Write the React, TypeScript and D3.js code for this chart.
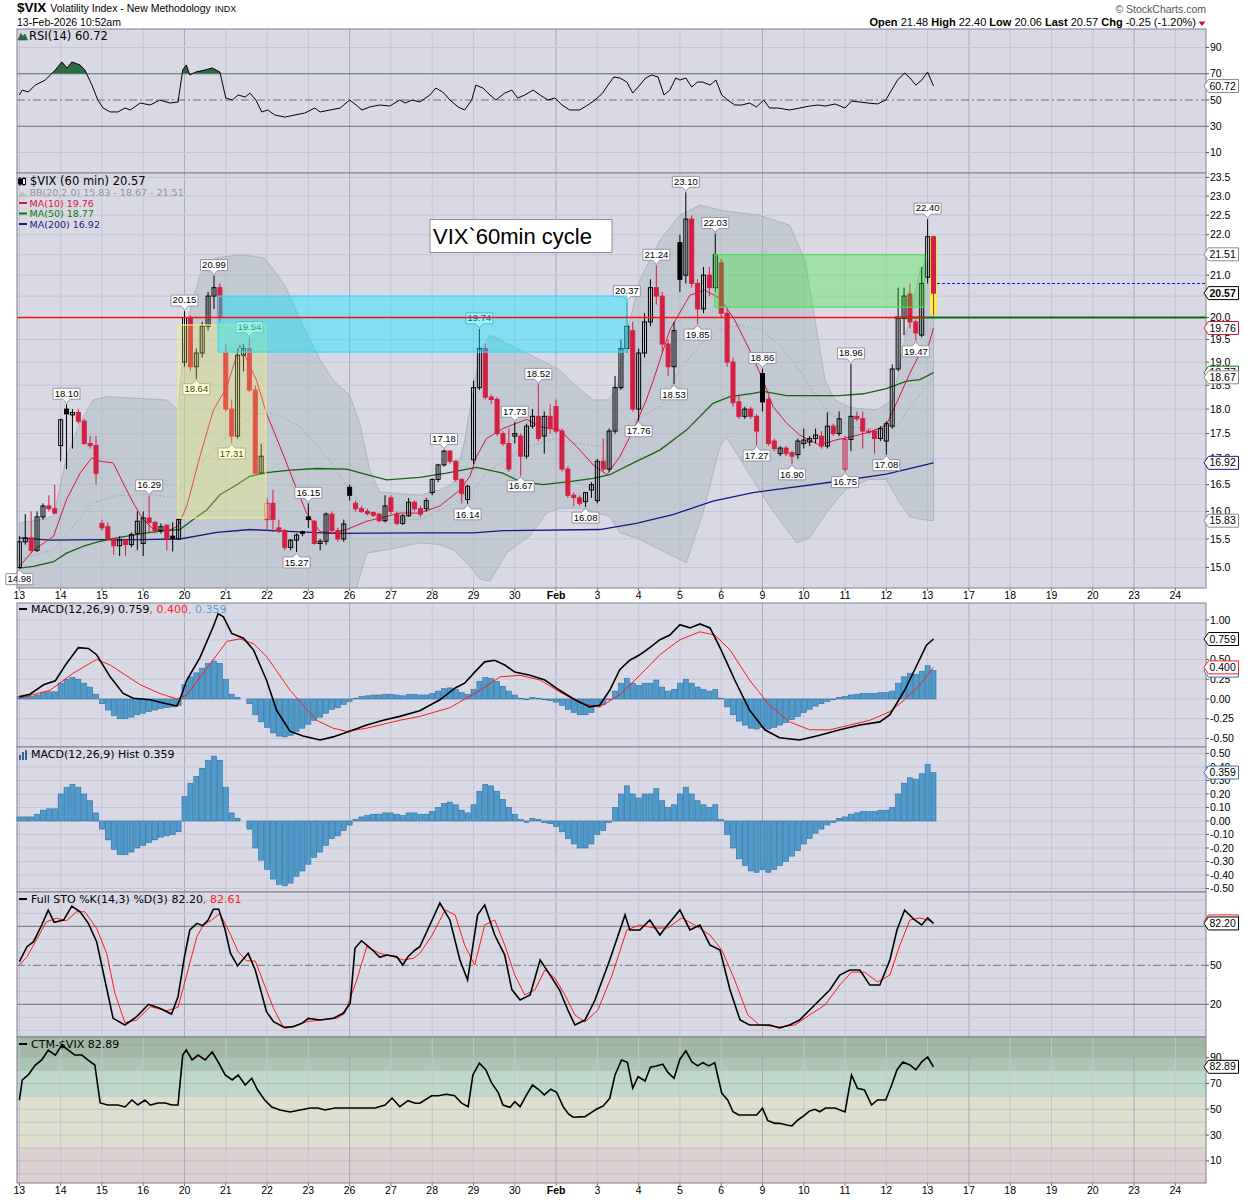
import React from "react";
import * as d3 from "d3";

// ================= DATA =================
const dayLabels = ["13","14","15","16","20","21","22","23","26","27","28","29","30","Feb","3","4","5","6","9","10","11","12","13","17","18","19","20","23","24"];
const weekStartIdx = [4, 8, 13, 18, 23, 27];

const opens = [
 15.00,15.45,15.52,15.30,15.90,16.10,16.05,
 17.26,18.00,17.88,17.93,17.75,17.30,17.26,
 15.78,15.72,15.50,15.38,15.48,15.40,15.60,
 15.42,15.88,15.80,15.65,15.75,15.55,15.50,
 19.00,20.00,18.90,19.20,19.80,20.50,20.70,
 19.20,18.00,17.45,19.15,19.30,18.40,16.72,
 15.85,16.15,15.70,15.65,15.35,15.48,15.63,
 15.90,15.82,15.42,15.46,15.95,15.65,15.50,
 16.45,16.15,16.05,16.00,15.98,15.95,15.83,
 16.25,15.95,15.78,15.92,16.17,16.05,16.05,
 16.35,16.60,16.88,17.15,16.95,16.60,16.22,
 16.98,18.45,19.30,18.25,18.20,17.50,17.30,
 17.45,17.45,17.05,17.65,17.85,17.45,17.85,
 18.05,17.55,16.80,16.30,16.25,16.18,16.40,
 16.20,16.95,16.80,17.55,18.45,19.30,19.70,
 18.00,19.20,19.90,20.70,20.50,19.40,18.90,
 21.80,21.00,22.40,20.80,20.20,21.00,20.70,
 21.30,20.10,19.00,18.15,17.85,18.00,17.85,
 18.75,18.20,17.35,17.10,17.21,17.12,17.08,
 17.30,17.33,17.40,17.45,17.25,17.65,17.50,
 16.80,17.38,17.85,17.80,17.55,17.55,17.40,
 17.35,17.65,18.85,19.98,20.55,19.90,19.60,
 20.95,21.95
];
const highs = [
 15.55,15.95,16.00,16.00,16.15,16.30,16.50,
 17.80,18.10,18.00,18.00,17.80,17.45,17.45,
 15.85,15.80,15.52,15.55,15.50,15.62,16.00,
 16.00,16.29,15.82,15.78,15.75,15.80,15.88,
 20.15,20.05,19.30,19.90,20.60,20.99,20.80,
 19.40,18.20,19.30,19.40,19.54,18.50,17.30,
 16.25,16.40,15.85,15.68,15.50,15.60,15.65,
 16.15,15.85,15.50,15.98,16.00,15.70,15.85,
 16.50,16.20,16.10,16.05,16.00,15.97,16.30,
 16.30,16.00,15.95,16.25,16.20,16.10,16.25,
 16.62,16.90,17.18,17.17,16.98,16.62,16.50,
 18.60,19.74,19.40,18.30,18.25,17.55,17.60,
 17.73,17.50,17.70,18.00,18.52,17.95,18.10,
 18.20,17.60,16.85,16.35,16.30,16.35,16.55,
 17.00,17.40,17.60,18.70,19.50,20.37,19.90,
 19.30,20.10,20.90,21.24,20.60,19.50,19.90,
 22.00,23.10,22.50,20.90,21.20,21.20,22.03,
 21.40,20.20,19.10,18.30,18.05,18.05,17.90,
 18.86,18.25,17.40,17.25,17.25,17.15,17.40,
 17.60,17.45,17.60,17.55,17.93,17.70,17.95,
 17.45,18.96,17.95,17.95,17.60,17.58,17.65,
 17.75,18.95,20.70,20.70,20.80,19.95,21.20,
 22.40,21.98
];
const lows = [
 14.98,15.40,15.25,15.27,15.85,16.00,15.95,
 16.95,16.80,17.20,17.70,17.28,17.20,16.50,
 15.65,15.48,15.22,15.20,15.20,15.35,15.30,
 15.20,15.60,15.60,15.60,15.30,15.28,15.50,
 18.90,18.80,18.64,19.10,19.70,20.20,19.90,
 17.95,17.31,17.40,18.80,18.35,16.70,16.70,
 15.65,15.62,15.60,15.30,15.30,15.27,15.55,
 15.70,15.40,15.30,15.40,15.60,15.45,15.45,
 16.20,16.00,15.97,15.93,15.90,15.80,15.80,
 15.95,15.75,15.75,15.90,16.00,15.90,16.00,
 16.30,16.55,16.85,16.90,16.55,16.15,16.14,
 16.90,18.40,18.20,18.10,17.45,17.25,16.75,
 17.30,16.67,17.00,17.60,17.35,17.10,17.50,
 17.50,16.75,16.25,16.10,16.10,16.08,16.25,
 16.15,16.75,16.75,17.50,18.40,19.20,17.95,
 17.76,19.10,19.80,20.30,19.20,18.70,18.53,
 20.60,20.80,20.70,19.85,20.10,20.50,20.60,
 20.00,18.90,18.05,17.80,17.80,17.80,17.27,
 17.95,17.25,17.15,17.05,17.05,16.90,17.00,
 17.20,17.25,17.30,17.20,17.20,17.45,17.45,
 16.75,17.15,17.75,17.20,17.50,17.10,17.35,
 17.08,17.60,18.80,19.60,19.75,19.47,19.55,
 20.80,20.06
];
const closes = [
 15.45,15.52,15.30,15.90,16.10,16.05,15.97,
 17.78,17.90,17.93,17.75,17.30,17.26,16.72,
 15.70,15.50,15.38,15.48,15.40,15.58,15.82,
 15.88,15.80,15.65,15.72,15.50,15.51,15.85,
 20.00,18.90,19.20,19.80,20.50,20.70,20.00,
 18.00,17.45,19.15,19.30,18.40,16.72,17.05,
 16.15,15.85,15.65,15.35,15.48,15.57,15.60,
 15.85,15.42,15.46,15.95,15.65,15.50,15.77,
 16.30,16.05,16.00,15.96,15.93,15.83,16.10,
 16.00,15.78,15.92,16.17,16.05,15.95,16.20,
 16.60,16.88,17.15,16.95,16.60,16.33,16.47,
 18.45,19.30,18.25,18.20,17.50,17.30,16.80,
 17.50,17.05,17.65,17.85,17.40,17.85,17.60,
 17.55,16.80,16.30,16.26,16.15,16.35,16.50,
 16.95,16.80,17.55,18.45,19.30,19.80,18.00,
 19.20,19.90,20.70,20.50,19.40,18.90,19.70,
 20.90,22.40,20.80,20.20,21.00,20.70,21.50,
 20.10,19.00,18.13,17.85,18.00,17.85,17.55,
 18.15,17.30,17.20,17.21,17.10,17.05,17.35,
 17.37,17.40,17.47,17.25,17.65,17.50,17.80,
 17.38,17.85,17.80,17.55,17.52,17.40,17.60,
 17.70,18.85,19.98,20.50,19.90,19.65,20.80,
 21.95,20.57
];

// [bar, value, 1 = high label / -1 = low label]
const hiLoLabels = [
 [0,14.98,-1],[8,18.10,1],[22,16.29,1],[28,20.15,1],[30,18.64,-1],[33,20.99,1],[36,17.31,-1],[39,19.54,1],
 [47,15.27,-1],[49,16.15,1],[72,17.18,1],[76,16.14,-1],[78,19.74,1],[84,17.73,1],[85,16.67,-1],[88,18.52,1],
 [96,16.08,-1],[103,20.37,1],[105,17.76,-1],[108,21.24,1],[111,18.53,-1],[113,23.10,1],[115,19.85,-1],
 [118,22.03,1],[125,17.27,-1],[126,18.86,1],[131,16.90,-1],[140,16.75,-1],[141,18.96,1],[147,17.08,-1],
 [152,19.47,-1],[154,22.40,1]
];

// overlay lines: [bar, value]
const ma10 = [[0,15.02],[2.4,15.30],[5.8,15.55],[8,16.22],[10.3,16.72],[12.3,17.02],[13.7,16.95],[15.9,16.92],[17.6,16.53],[19.3,16.16],[21,15.85],[22.7,15.68],[25,15.64],[26.9,15.73],[28.4,16.10],[30.6,17.04],[32.9,17.98],[35.2,18.47],[37.4,19.38],[40.2,18.61],[41.9,17.91],[44.2,17.24],[46.4,16.59],[48.7,15.97],[51,15.63],[53.2,15.61],[55.5,15.67],[58.9,15.82],[62.3,15.91],[64.5,15.97],[67.9,15.97],[71.3,16.10],[74.7,16.40],[76.4,16.66],[77.5,17.04],[79.2,17.40],[82,17.60],[86,17.79],[88.3,17.64],[91.6,17.57],[94.5,17.24],[97.3,16.88],[99.6,16.69],[101.8,17.04],[104.1,17.57],[106.3,18.19],[107.5,18.61],[110.3,19.72],[113.7,20.52],[116.2,20.64],[118.8,20.45],[121.3,19.94],[123.8,19.27],[126.1,18.61],[127.8,18.05],[130.1,17.71],[132.3,17.47],[135.7,17.27],[138.4,17.37],[140.8,17.43],[144.2,17.53],[147,17.67],[148.7,18.12],[151,18.76],[152.7,19.20],[154.1,19.35],[155,19.76]];
const ma50 = [[0,14.99],[2.4,15.02],[5.8,15.10],[8,15.25],[10.8,15.37],[13.7,15.46],[16.5,15.52],[19.3,15.57],[22.2,15.62],[25,15.65],[27.2,15.67],[29.5,15.85],[31.8,16.03],[34,16.31],[36.3,16.46],[39.1,16.66],[41.9,16.73],[45.9,16.78],[50.4,16.81],[55.5,16.80],[58.9,16.69],[62.3,16.59],[67.9,16.64],[72.4,16.72],[77.5,16.83],[82,16.72],[84.9,16.56],[88.8,16.50],[93.3,16.56],[97.3,16.62],[100.1,16.69],[104.1,16.92],[108.6,17.17],[113.1,17.57],[117.6,18.12],[120.5,18.26],[124.4,18.33],[126.1,18.37],[130.1,18.28],[139.1,18.28],[143.1,18.32],[147,18.43],[150.4,18.59],[152.7,18.62],[155,18.77]];
const ma200 = [[0,15.52],[5.2,15.48],[13.7,15.49],[20.5,15.49],[27.2,15.50],[33.5,15.62],[39.1,15.67],[44.7,15.64],[53.2,15.60],[67.9,15.61],[77,15.61],[82,15.65],[98.4,15.67],[104.6,15.78],[110.8,15.94],[117.6,16.19],[124.4,16.35],[139.1,16.57],[147,16.70],[155,16.92]];
const bbUpper = [[0,15.79],[3.5,15.85],[5.8,15.91],[8,17.04],[10.3,17.72],[12.5,18.19],[14.8,18.26],[25,18.19],[26.9,17.98],[28.1,19.72],[30.6,21.0],[33.2,21.42],[37.4,21.5],[41.6,21.42],[45,20.76],[48.4,19.72],[51,19.05],[53.2,18.61],[56,18.29],[57.7,17.72],[59.4,16.78],[61.1,16.36],[67.9,16.30],[71.3,16.40],[73.6,16.53],[75.3,17.24],[77,18.40],[78.1,19.27],[79.8,19.6],[83.2,19.38],[88.3,19.05],[91.6,18.83],[94.2,18.5],[97.3,18.19],[99.6,18.19],[101.3,18.4],[102.7,19.49],[105.2,20.88],[108.6,21.86],[112,22.5],[115.4,22.76],[118.8,22.63],[125.5,22.5],[130.6,22.24],[133.2,21.37],[134.9,19.94],[136.6,18.61],[138.3,18.19],[141,18.03],[145.3,17.98],[148.1,18.19],[150.1,19.49],[152.7,21.12],[155,21.51]];
const bbLower = [[0,14.4],[5,14.3],[8,13.8],[14,13.6],[25,13.7],[28,13.8],[32,13.2],[40,12.5],[48,12.6],[54,13.5],[57,14.6],[58.9,15.25],[62.3,15.31],[67.9,15.43],[71.3,15.40],[73.6,15.31],[76.4,15.02],[78.1,14.8],[79.8,14.77],[82.6,15.25],[86.5,15.55],[89.4,15.97],[91.6,16.06],[95,16.06],[100.1,15.91],[101.8,15.61],[104.6,15.52],[107.5,15.37],[113.1,15.08],[115.9,15.97],[118.8,17.24],[119.9,17.43],[124.4,16.59],[127.2,16.10],[130.1,15.67],[131.8,15.43],[134,15.52],[136.8,15.97],[140,16.4],[144,16.6],[147,16.6],[149,16.2],[151,15.9],[153,15.85],[155,15.83]];
const bbMid = [[0,15.13],[5.7,15.31],[9.2,15.73],[12.5,16.16],[16.5,16.29],[22.2,16.32],[26.1,16.25],[28.4,16.59],[31.8,17.04],[36.3,17.57],[39.7,17.91],[43.1,17.91],[47.6,17.64],[52.1,17.04],[56,16.40],[58.9,16.03],[62.3,15.85],[67.9,15.85],[73.6,16.16],[77,16.40],[79.2,16.72],[84.9,17.17],[90.5,17.40],[95,17.30],[98.4,17.24],[101.8,17.57],[106.3,17.91],[108.6,18.05],[112,18.83],[115.4,19.38],[118.8,19.72],[122.1,19.83],[125.5,19.72],[128.9,19.38],[132.3,18.83],[134.9,18.30],[137.4,17.91],[140.8,17.64],[146.2,17.57],[148.7,17.64],[151.5,18.12],[155,18.67]];

const rsi = [[0,53.8],[0.5,57.6],[1.5,56.1],[2.7,61.4],[4.4,65.2],[6.1,72.9],[7.2,79.0],[8.1,74.4],[8.9,79.0],[10.3,76.7],[11.1,72.9],[12.3,61.4],[13.3,50],[14.2,43.9],[15.4,40.9],[16.7,40.9],[17.9,43.9],[18.8,42.4],[20.5,47.7],[22.2,46.2],[23.8,50],[25.5,47.7],[26.9,48.5],[27.7,72.9],[28.3,76.7],[28.9,69.1],[29.9,71.3],[31.5,72.9],[32.7,74.4],[34,71.3],[35,51.5],[36.1,50],[37.1,53.8],[38.3,52.3],[39.1,55.3],[40.1,50],[41.1,40.9],[42.1,42.4],[43.3,38.6],[45,37.0],[46.7,38.6],[48.4,40.1],[50.1,43.9],[51,40.9],[52.7,42.4],[54.4,43.9],[56,50],[57.1,46.2],[58.1,42.4],[59.4,44.7],[61.1,46.2],[62.8,45.4],[64.5,50],[65.4,47.7],[66.6,50],[67.9,48.5],[69.6,53.8],[70.6,59.1],[71.8,56.1],[73,50],[74.4,44.7],[75.5,42.4],[76.7,50],[77.4,61.4],[78.6,59.1],[79.8,53.8],[80.8,50],[82.3,55.3],[83.5,57.6],[84.5,51.5],[85.7,53.8],[87.1,57.6],[88.3,53.8],[89.6,50],[90.8,51.5],[92,46.2],[93.3,42.4],[95,42.4],[96.4,46.2],[97.6,50],[98.9,55.3],[99.8,61.4],[100.8,67.5],[101.8,66.8],[103,63.7],[104,55.3],[105.2,61.4],[106.2,66.8],[107.2,69.1],[108.3,67.5],[109.3,53.8],[110.3,57.6],[111.3,66.8],[112,65.2],[113,66.8],[114,59.9],[115,63.7],[115.9,63.7],[117.1,61.4],[118.1,65.2],[119.1,53.8],[120.1,50],[121.3,46.2],[122.5,46.2],[123.8,47.7],[125,44.7],[126.2,50],[127.2,43.9],[128.6,43.9],[130.6,42.4],[132.3,43.9],[134,45.4],[135.4,46.2],[136.7,45.4],[138.3,47.0],[140,43.9],[141.1,49.2],[142.5,48.5],[143.9,47.7],[145.5,47.0],[146.9,50],[147.9,57.6],[148.9,65.2],[150.1,70.6],[151,66.8],[152,61.4],[153,65.2],[154,71.3],[155,60.72]];

const macdLine = [[0,0.03],[1.8,0.06],[4.1,0.18],[6.1,0.23],[8,0.45],[10,0.65],[11.7,0.64],[13.1,0.56],[15.4,0.28],[17.6,0.07],[19.3,0.01],[22.2,-0.01],[24.4,-0.05],[26.7,-0.09],[27.2,-0.01],[28.4,0.24],[30.6,0.52],[32.9,0.92],[33.7,1.08],[34.6,1.04],[36,0.83],[38,0.77],[39.7,0.62],[41.9,0.24],[43.6,-0.14],[45.9,-0.41],[48.1,-0.47],[51,-0.52],[53.2,-0.48],[56,-0.41],[58.9,-0.33],[61.7,-0.27],[64.5,-0.22],[67.9,-0.15],[71.3,-0.01],[73.9,0.14],[75.5,0.2],[77.2,0.34],[78.9,0.47],[80.6,0.49],[82.3,0.43],[84,0.34],[86.6,0.30],[89.1,0.24],[91.6,0.11],[94.2,-0.01],[96.7,-0.10],[98.4,-0.08],[100.1,0.11],[101.8,0.37],[103.5,0.49],[105.2,0.56],[106.9,0.65],[108.6,0.75],[110.3,0.81],[112,0.94],[113.7,0.90],[115.4,0.95],[117.1,0.90],[118.8,0.65],[121.3,0.24],[123.8,-0.14],[126.4,-0.39],[128.9,-0.49],[132.3,-0.52],[135.7,-0.46],[139.1,-0.39],[142.5,-0.33],[145.9,-0.29],[147.6,-0.20],[150.1,0.11],[151.8,0.37],[153.8,0.68],[155,0.759]];
const macdSignal = [[0,0.01],[5.2,0.11],[9.2,0.33],[13.1,0.50],[15.4,0.43],[20.5,0.18],[23.8,0.07],[26.7,0.0],[28.4,0.05],[31.2,0.33],[35.2,0.73],[37.4,0.76],[39.7,0.70],[41.9,0.54],[45.9,0.11],[50.4,-0.27],[53.2,-0.37],[55.5,-0.41],[58.9,-0.37],[64.5,-0.27],[67.9,-0.22],[73,-0.11],[78.1,0.11],[81.5,0.28],[84.9,0.30],[88.3,0.24],[91.6,0.09],[95,-0.05],[98.4,-0.10],[101.8,0.05],[105.2,0.30],[108.6,0.56],[112,0.75],[115.4,0.85],[117.9,0.81],[120.5,0.62],[123.8,0.24],[127.2,-0.08],[130.6,-0.29],[134,-0.39],[137.4,-0.39],[140.8,-0.33],[144.2,-0.27],[147.6,-0.16],[150.1,-0.01],[152.7,0.18],[155,0.40]];
const macdHist = [
 0.03,0.03,0.03,0.05,0.08,0.09,0.09,
 0.20,0.25,0.27,0.25,0.20,0.15,0.06,
 -0.06,-0.14,-0.21,-0.25,-0.25,-0.23,-0.20,
 -0.18,-0.16,-0.14,-0.12,-0.11,-0.10,-0.08,
 0.18,0.28,0.33,0.39,0.45,0.48,0.45,
 0.25,0.06,0.02,0.00,-0.06,-0.20,-0.29,
 -0.36,-0.43,-0.47,-0.48,-0.46,-0.41,-0.37,
 -0.32,-0.27,-0.23,-0.18,-0.13,-0.11,-0.07,
 -0.03,0.01,0.03,0.04,0.05,0.05,0.06,
 0.06,0.05,0.04,0.06,0.06,0.05,0.05,
 0.07,0.10,0.13,0.14,0.12,0.08,0.06,
 0.12,0.22,0.27,0.26,0.22,0.16,0.10,
 0.05,0.01,-0.01,0.02,0.01,-0.01,-0.02,
 -0.04,-0.08,-0.13,-0.17,-0.20,-0.20,-0.17,
 -0.10,-0.07,-0.01,0.10,0.20,0.26,0.20,
 0.17,0.20,0.20,0.24,0.15,0.10,0.12,
 0.20,0.25,0.20,0.15,0.12,0.10,0.12,
 0.01,-0.10,-0.20,-0.28,-0.33,-0.37,-0.38,
 -0.36,-0.38,-0.36,-0.33,-0.30,-0.26,-0.22,
 -0.17,-0.13,-0.09,-0.06,-0.03,-0.01,0.02,
 0.03,0.05,0.06,0.07,0.07,0.07,0.08,
 0.08,0.10,0.20,0.28,0.32,0.31,0.35,
 0.42,0.359
];

const stoK = [[0,52.8],[1.3,64.3],[2.4,68.2],[3.8,81],[4.9,92.5],[5.9,83.1],[7.5,84.8],[8.9,95.6],[10.3,91.2],[11.7,82.3],[13.1,68.2],[14.5,38.7],[15.9,9.2],[17.9,4.1],[19.9,10.5],[21.9,20],[23.8,16.9],[25.8,12.5],[26.9,25.8],[28,56.6],[28.9,77.2],[30.1,82.3],[31.1,80.5],[32,84.8],[32.9,93.1],[33.8,93.1],[34.9,77.2],[35.8,59.2],[37,49.5],[38.8,59.2],[40,46.4],[41.9,14.3],[43.1,6.6],[45,2],[46.4,2.8],[47.9,5.4],[49,9.2],[51,7.9],[53.2,9.2],[54.9,13.1],[56.1,20.8],[56.9,63.1],[58,68.9],[58.9,65.6],[60,61.2],[61.1,56.2],[62.3,57.9],[64,56.6],[65,50.2],[65.9,56.6],[67.1,61.8],[67.9,64.3],[69.6,81],[71.3,97.9],[73,84.9],[74.7,54.1],[76,38.7],[77.7,88.8],[78.9,96.4],[80.6,73.3],[82.3,57.9],[83.5,31.3],[84.9,23.3],[86.6,27.2],[88.3,54.1],[90,42.5],[91.6,31],[93,15.6],[94.2,4.1],[95.9,7.9],[97.6,23.3],[100.1,54.1],[102.7,88.8],[103.5,77.2],[105.2,77.2],[106.9,84.9],[108.6,73.3],[109.9,81],[112,92.5],[113.7,77.2],[115.4,81],[117.1,65.6],[118.8,61.8],[120.5,31],[122.2,7.9],[123.8,4.1],[127.2,4.1],[128.9,1.8],[130.6,4.1],[132.3,7.9],[134,15.6],[135.7,23.3],[137.4,31],[139.1,42.5],[140.8,46.4],[142.5,46.4],[144.2,34.8],[145.9,34.8],[147.6,54.1],[148.8,77.2],[150.1,92.5],[151.8,84.9],[153,81],[154,86.4],[155,82.2]];
const stoD = [[0,50.2],[1.3,56.6],[4.6,83.5],[6.3,86.2],[8,84.3],[9.7,91.2],[11.1,91.2],[13.1,78.5],[14.8,59.2],[16.2,28.5],[17.9,5.9],[19.9,7.9],[22.2,18.2],[25,15.1],[26.9,17.7],[28.6,46.4],[30.1,72],[31.2,81],[32.6,84.8],[34,90],[35.7,74.6],[37.1,60.5],[38.5,53.5],[40,53.3],[40.8,43.8],[43.1,16.9],[44.7,2.8],[46.4,2.8],[48.7,6.6],[51,7.9],[53.8,9.2],[55.2,13.1],[57.2,38.7],[58.9,64.3],[61.1,59.2],[63.4,56.6],[65.1,54.1],[66.8,55.4],[67.9,59.2],[70,73.3],[72.2,92.6],[73.9,88.7],[75.5,65.6],[77.2,50.2],[78.9,81],[80.6,84.9],[82.3,65.6],[84,42.5],[85.7,27.2],[87.4,31],[89.1,46.4],[90.8,40.2],[92.5,27.2],[94.2,11.8],[95.9,6.4],[98.1,15.6],[100.5,42.5],[103,77.2],[105.2,81],[107.7,78.7],[109.9,78.7],[112.3,86.4],[114.5,81],[117.1,73.3],[119.1,61.8],[121.3,38.7],[123.5,11.8],[125.5,4.1],[128.9,2.6],[131.5,4.1],[134,11.8],[136.6,19.5],[139.1,34.8],[141.1,44.8],[143.3,44.8],[145.5,37.2],[147.6,42.5],[149.3,65.6],[151,84.9],[152.7,86.4],[154,84.9],[155,82.61]];

const ctm = [[0,57],[0.5,72.7],[1.5,76.6],[2.7,84.3],[3.8,88.2],[4.9,95.9],[6.1,92],[7.2,99.8],[8.3,95.9],[9.4,92],[10.6,92],[11.6,88.2],[12.8,84.3],[13.7,54.9],[15,53.3],[16.7,53.3],[17.9,51.8],[19.1,57.2],[20.1,53.3],[21.3,57.2],[22.2,53.3],[23.5,54.9],[24.7,54.9],[25.9,53.3],[26.9,53.3],[27.7,92],[28.3,95.9],[29.3,88.2],[30.3,92],[31.5,88.2],[32.7,94.4],[33.7,86.7],[34.9,76.6],[36.1,72.7],[37.1,76.6],[38.3,68.8],[39.4,74],[40.4,64.9],[41.6,57.2],[42.8,51.8],[44.2,49.5],[45.9,47.9],[47.6,49.5],[49.3,51],[50.6,51],[51.8,49.5],[53.5,51],[55.2,51],[57.7,51],[60.3,51],[62,53.3],[63.2,58.7],[64.5,52],[65.9,56.7],[67.1,54.7],[67.9,54.7],[69.9,60.5],[71,60.5],[72.4,61.6],[73.8,60.5],[75,54.7],[76.1,52],[76.9,76.6],[78,85.7],[79.1,80.5],[80.1,70.2],[81.2,62.9],[82,53.3],[83.2,51.5],[84,55.9],[84.9,52],[86,61.1],[87,68.8],[88,65.5],[89,61.1],[90.1,65.5],[91.1,63.2],[92.2,52],[93.1,46.4],[93.9,43.8],[95.9,44.3],[97.9,50.2],[99,52.6],[100.1,58.5],[101,76.6],[102.1,88.2],[103.1,86.4],[104,66.3],[104.9,75.3],[106.1,71.9],[107,82.6],[108,83.6],[109.1,84.9],[110,78.4],[111,74],[112,88.8],[113,95.4],[114,86.9],[115,83.6],[115.9,86.1],[116.9,83.6],[117.9,86.1],[119.1,62.4],[120.1,57.2],[121,48.1],[122,45.6],[125,45.6],[126,50.8],[126.9,41.2],[128.1,39.1],[128.9,39.1],[130.1,37.8],[131,37.1],[132,41.7],[133,44.8],[134,48.7],[134.9,50],[135.7,48.1],[136.7,51],[138.3,51],[140,47.9],[141.1,76.6],[142.1,66.3],[143.3,64.9],[144.5,53.3],[145.5,57.2],[146.9,57.2],[147.9,68.8],[148.8,80.5],[149.8,86.7],[151,84.3],[152,80.5],[153,86.7],[154,90.5],[155,82.89]];

// right-axis tick values
const priceTickVals = [15.0,15.5,16.0,16.5,17.0,17.5,18.0,18.5,19.0,19.5,20.0,21.0,22.0,22.5,23.0,23.5];
const rsiTickVals = [10, 30, 50, 70, 90];
const macdTickVals = [-0.5, -0.25, 0, 0.25, 0.5, 1.0];
const histTickVals = [-0.5,-0.4,-0.3,-0.2,-0.1,0,0.1,0.2,0.3,0.4,0.5];
const stoTickVals = [20, 50];
const ctmTickVals = [10, 30, 50, 70, 90];

// ================= HELPERS =================
const FA = "'Liberation Sans', Arial, Helvetica, sans-serif";
const FL = "'DejaVu Sans', Verdana, sans-serif";
const BG = "#D9D9E6";
const GRID = "#C5C5D5";
const GRID_MAJ = "#A9A9BC";
const FRAME = "#7E7E90";
const RED = "#D41E42";

function range(a, b, step) {
  const out = [];
  for (let v = a; v <= b + 1e-9; v += step) out.push(Math.round(v * 1000) / 1000);
  return out;
}

function ValBox({ y, text, color, bold }) {
  return (
    <g>
      <path d={`M1238.5,${y - 6.5} H1208.5 L1204,${y} L1208.5,${y + 6.5} H1238.5 Z`} fill="#fff" stroke={color} strokeWidth={1} />
      {text ? (
        <text x={1209.5} y={y + 3.6} fontSize={10.5} fontFamily={FA} fontWeight={bold ? "bold" : "normal"} fill="#000">{text}</text>
      ) : null}
    </g>
  );
}

export default function App() {
  const X0 = 17, X1 = 1206;
  const xs = d3.scaleLinear().domain([-0.4, 201.2]).range([X0, X1]);
  const dayX = dayLabels.map((_, k) => xs(k * 7));

  const yRsi = d3.scaleLinear().domain([-5.6, 104.1]).range([173, 29]);
  const yP = d3.scaleLog().domain([14.65, 23.62]).range([588, 173]);
  const yMacd = d3.scaleLinear().domain([-0.608, 1.215]).range([747, 603]);
  const yHist = d3.scaleLinear().domain([-0.526, 0.548]).range([892, 747]);
  const ySto = d3.scaleLinear().domain([-5.15, 106.4]).range([1037, 892]);
  const yCtm = d3.scaleLinear().domain([-7.13, 106.0]).range([1183, 1037]);

  const line = (pts, y) => d3.line().x((d) => xs(d[0])).y((d) => y(d[1]))(pts);

  const vGrid = (top, bottom, key) =>
    dayX.map((x, k) => (
      <line key={key + k} x1={x} x2={x} y1={top} y2={bottom} stroke={weekStartIdx.includes(k) ? GRID_MAJ : GRID} strokeWidth={1} />
    ));
  const hGrid = (vals, y, key, color = GRID) =>
    vals.map((v, i) => <line key={key + i} x1={X0} x2={X1} y1={y(v)} y2={y(v)} stroke={color} strokeWidth={1} />);
  const axisLabels = (vals, y, fmt, key) =>
    vals.map((v, i) => (
      <g key={key + i}>
        <line x1={X1} x2={X1 + 3} y1={y(v)} y2={y(v)} stroke="#555" />
        <text x={1210} y={y(v) + 3.6} fontSize={10.5} fontFamily={FA} fill="#000">{fmt(v)}</text>
      </g>
    ));
  const frame = (top, bottom) => <rect x={X0} y={top} width={X1 - X0} height={bottom - top} fill="none" stroke={FRAME} strokeWidth={1} />;
  const bgRect = (top, bottom) => <rect x={X0} y={top} width={X1 - X0} height={bottom - top} fill={BG} />;

  const bbPoly = bbUpper.map((d) => [xs(d[0]), yP(d[1])]).concat(bbLower.slice().reverse().map((d) => [xs(d[0]), yP(d[1])]));
  const bbPath = d3.line()(bbPoly) + "Z";

  const priceGrid = range(15, 23.5, 0.5);
  const rsiOver = d3.area().x((d) => xs(d[0])).y0(yRsi(70)).y1((d) => yRsi(d[1]))(rsi);

  const ctmBands = [
    [90, 106, "#A1B8A5"],
    [80, 90, "#ABC6B3"],
    [60, 80, "#BED9CA"],
    [20, 60, "#DEDFCE"],
    [-7.13, 20, "#DDD0D1"],
  ];

  const annoBox = (s0, s1, vTop, vBot, fill, op, stroke) => (
    <rect x={xs(s0)} y={yP(vTop)} width={xs(s1) - xs(s0)} height={yP(vBot) - yP(vTop)} fill={fill} fillOpacity={op} stroke={stroke} strokeWidth={1.2} />
  );

  return (
    <div style={{ position: "absolute", left: 0, top: 0 }}>
      <svg width={1250} height={1200} style={{ display: "block", background: "#fff" }}>
        <defs>
          <clipPath id="cpPrice"><rect x={X0} y={173} width={X1 - X0} height={415} /></clipPath>
          <clipPath id="cpRsi"><rect x={X0} y={29} width={X1 - X0} height={144} /></clipPath>
          <clipPath id="cpRsiOver"><rect x={X0} y={29} width={X1 - X0} height={yRsi(70) - 29} /></clipPath>
          <clipPath id="cpMacd"><rect x={X0} y={603} width={X1 - X0} height={144} /></clipPath>
          <clipPath id="cpSto"><rect x={X0} y={892} width={X1 - X0} height={145} /></clipPath>
          <clipPath id="cpCtm"><rect x={X0} y={1037} width={X1 - X0} height={146} /></clipPath>
        </defs>

        {/* ===== Header ===== */}
        <text x={17} y={12} fontFamily={FA} fill="#000">
          <tspan fontSize={13.5} fontWeight="bold">$VIX</tspan>
          <tspan fontSize={10.5} dx={4}>Volatility Index - New Methodology</tspan>
          <tspan fontSize={9} dx={4}>INDX</tspan>
        </text>
        <text x={17} y={26} fontFamily={FA} fontSize={10.5} fill="#000">13-Feb-2026 10:52am</text>
        <text x={1206} y={12.5} textAnchor="end" fontFamily={FA} fontSize={10.5} fill="#555">© StockCharts.com</text>
        <text x={1196} y={26} textAnchor="end" fontFamily={FA} fontSize={11} fill="#000">
          <tspan fontWeight="bold">Open</tspan><tspan> 21.48 </tspan>
          <tspan fontWeight="bold">High</tspan><tspan> 22.40 </tspan>
          <tspan fontWeight="bold">Low</tspan><tspan> 20.06 </tspan>
          <tspan fontWeight="bold">Last</tspan><tspan> 20.57 </tspan>
          <tspan fontWeight="bold">Chg</tspan><tspan> -0.25 (-1.20%)</tspan>
        </text>
        <path d="M1198.5,21.5 L1205.5,21.5 L1202,26 Z" fill="#CC1133" />

        {/* ===== RSI panel ===== */}
        {bgRect(29, 173)}
        {vGrid(29, 173, "rv")}
        {hGrid([10, 90], yRsi, "rh")}
        <line x1={X0} x2={X1} y1={yRsi(70)} y2={yRsi(70)} stroke="#6E6E78" strokeWidth={1} />
        <line x1={X0} x2={X1} y1={yRsi(30)} y2={yRsi(30)} stroke="#6E6E78" strokeWidth={1} />
        <line x1={X0} x2={X1} y1={yRsi(50)} y2={yRsi(50)} stroke="#6E6E78" strokeWidth={1} strokeDasharray="8,3,2,3" />
        <g clipPath="url(#cpRsiOver)">
          <path d={rsiOver} fill="#2F6A47" stroke="none" />
        </g>
        <g clipPath="url(#cpRsi)">
          <path d={line(rsi, yRsi)} fill="none" stroke="#000" strokeWidth={1} />
        </g>
        {frame(29, 173)}
        <path d="M18,40 L21,33.5 L23,36.5 L25,34 L27.5,40 Z" fill="#2F6A47" stroke="#1d4a2f" strokeWidth={0.6} />
        <text x={29} y={39.5} fontFamily={FL} fontSize={11.5} fill="#000">RSI(14) 60.72</text>
        {axisLabels(rsiTickVals, yRsi, (v) => String(v), "ra")}
        <ValBox y={yRsi(60.72)} text="60.72" color="#8A8A95" />

        {/* ===== Price panel ===== */}
        {bgRect(173, 588)}
        {vGrid(173, 588, "pv")}
        {hGrid(priceGrid, yP, "ph")}
        <g clipPath="url(#cpPrice)">
          <path d={bbPath} fill="#A9B5BD" fillOpacity={0.45} stroke="#A3ADB5" strokeWidth={0.8} />
          <path d={line(bbMid, yP)} fill="none" stroke="#A2AAB2" strokeWidth={1} strokeDasharray="2,2" />
          <path d={line(ma200, yP)} fill="none" stroke="#1A1A80" strokeWidth={1.3} />
          <path d={line(ma50, yP)} fill="none" stroke="#166416" strokeWidth={1.3} />
          <path d={line(ma10, yP)} fill="none" stroke="#DC143C" strokeWidth={1} />
          <rect x={xs(155) - 3.5} y={yP(opens[155])} width={7} height={yP(lows[155]) - yP(opens[155])} fill="#F2EE4A" />
          {opens.map((o, i) => {
            const c = closes[i];
            const prev = i === 0 ? o : closes[i - 1];
            const col = c >= prev ? "#000" : RED;
            const hollow = c > o;
            const x = xs(i);
            const yTop = yP(Math.max(o, c));
            const yBot = yP(Math.min(o, c));
            return (
              <g key={"c" + i}>
                <line x1={x} x2={x} y1={yP(highs[i])} y2={yP(lows[i])} stroke={col} strokeWidth={1} />
                <rect x={x - 2} y={yTop} width={4} height={Math.max(1, yBot - yTop)} fill={hollow ? "none" : col} stroke={col} strokeWidth={1} />
              </g>
            );
          })}
        </g>
        {hiLoLabels.map(([s, v, dir], i) => {
          const x = xs(s);
          const txt = v.toFixed(2);
          const w = 27;
          const yv = yP(v);
          if (dir > 0) {
            const tip = yv - 1;
            const bb = tip - 4;
            return (
              <g key={"l" + i}>
                <path d={`M${x - w / 2},${bb - 11} H${x + w / 2} V${bb} H${x + 3.5} L${x},${tip} L${x - 3.5},${bb} H${x - w / 2} Z`} fill="#fff" stroke="#9595A5" strokeWidth={1} />
                <text x={x} y={bb - 2.6} textAnchor="middle" fontFamily={FA} fontSize={9.5} fill="#000">{txt}</text>
              </g>
            );
          }
          const tip = yv + 1;
          const bt = tip + 4;
          return (
            <g key={"l" + i}>
              <path d={`M${x - w / 2},${bt} H${x - 3.5} L${x},${tip} L${x + 3.5},${bt} H${x + w / 2} V${bt + 11} H${x - w / 2} Z`} fill="#fff" stroke="#9595A5" strokeWidth={1} />
              <text x={x} y={bt + 8.7} textAnchor="middle" fontFamily={FA} fontSize={9.5} fill="#000">{txt}</text>
            </g>
          );
        })}
        <g clipPath="url(#cpPrice)">
          {annoBox(26.9, 41.8, 19.83, 15.88, "#FFFF55", 0.25, "#EDEB8A")}
          {annoBox(33.7, 103.0, 20.5, 19.22, "#00E6FF", 0.4, "#3FD9EE")}
          {annoBox(117.9, 153.5, 21.5, 20.24, "#22EE22", 0.3, "#55DD55")}
          <line x1={xs(148.3)} x2={X1} y1={yP(20)} y2={yP(20)} stroke="#0B6B0B" strokeWidth={2} />
          <line x1={X0} x2={xs(153.6)} y1={yP(20)} y2={yP(20)} stroke="#FF1010" strokeWidth={1.6} />
          <line x1={xs(155.6)} x2={X1} y1={yP(20.8)} y2={yP(20.8)} stroke="#1010C0" strokeWidth={1} strokeDasharray="3,2" />
        </g>
        <rect x={430} y={219.5} width={182} height={33} fill="#fff" stroke="#8E8E8E" strokeWidth={1} />
        <text x={433} y={244} fontFamily={FA} fontSize={22} fill="#000">VIX`60min cycle</text>
        {frame(173, 588)}
        <g fontFamily={FL}>
          <g stroke="#000" strokeWidth={1}>
            <line x1={20} x2={20} y1={177} y2={186} /><rect x={18.5} y={179} width={3} height={5} fill="#000" />
            <line x1={24} x2={24} y1={177} y2={186} /><rect x={22.5} y={178.5} width={3} height={6} fill="#fff" />
          </g>
          <text x={30} y={185} fontSize={11.5} fill="#000">$VIX (60 min) 20.57</text>
          <path d="M18,197 L22,191 L25,194 L28,197 Z" fill="#B7C3BE" />
          <text x={29.5} y={196} fontSize={9.5} fill="#8C979C">BB(20,2.0) 15.83 - 18.67 - 21.51</text>
          <line x1={19} x2={27} y1={203} y2={203} stroke="#DC143C" strokeWidth={2} />
          <text x={29.5} y={206.5} fontSize={9.5} fill="#DC143C">MA(10) 19.76</text>
          <line x1={19} x2={27} y1={213.5} y2={213.5} stroke="#0B7A0B" strokeWidth={2} />
          <text x={29.5} y={217} fontSize={9.5} fill="#0B7A0B">MA(50) 18.77</text>
          <line x1={19} x2={27} y1={224} y2={224} stroke="#1A1A80" strokeWidth={2} />
          <text x={29.5} y={227.5} fontSize={9.5} fill="#1A1A80">MA(200) 16.92</text>
        </g>
        {axisLabels(priceTickVals, yP, (v) => v.toFixed(1), "pa")}
        <ValBox y={yP(21.51)} text="21.51" color="#8A8A95" />
        <ValBox y={yP(20.57)} text="20.57" color="#000" bold />
        <ValBox y={yP(19.76)} text="19.76" color="#DC143C" />
        <ValBox y={yP(18.77)} text="18.77" color="#0B7A0B" />
        <ValBox y={yP(18.67)} text="18.67" color="#8A8A95" />
        <ValBox y={yP(16.92)} text="16.92" color="#1A1A80" />
        <ValBox y={yP(15.83)} text="15.83" color="#8A8A95" />

        {dayLabels.map((d, k) => (
          <g key={"dm" + k}>
            <line x1={dayX[k]} x2={dayX[k]} y1={588} y2={591} stroke="#777" />
            <text x={dayX[k]} y={599} textAnchor="middle" fontFamily={FA} fontSize={10.5} fontWeight={d === "Feb" ? "bold" : "normal"} fill="#000">{d}</text>
          </g>
        ))}

        {/* ===== MACD panel ===== */}
        {bgRect(603, 747)}
        {vGrid(603, 747, "mv")}
        {hGrid([-0.5, -0.25, 0, 0.25, 0.5, 0.75, 1.0], yMacd, "mh")}
        <g clipPath="url(#cpMacd)">
          {macdHist.map((v, i) => (
            <rect key={"mh" + i} x={xs(i) - 2.5} y={Math.min(yMacd(0), yMacd(v))} width={5} height={Math.abs(yMacd(v) - yMacd(0))} fill="#4E9BCD" stroke="#2D6C98" strokeWidth={0.6} />
          ))}
          <path d={line(macdSignal, yMacd)} fill="none" stroke="#FF1A1A" strokeWidth={1} />
          <path d={line(macdLine, yMacd)} fill="none" stroke="#000" strokeWidth={1.6} />
        </g>
        {frame(603, 747)}
        <line x1={19} x2={27} y1={609} y2={609} stroke="#000" strokeWidth={2} />
        <text x={31} y={613} fontFamily={FL} fontSize={11}>
          <tspan fill="#000">MACD(12,26,9) 0.759</tspan>
          <tspan fill="#FF1A1A">, 0.400</tspan>
          <tspan fill="#5A9FD4">, 0.359</tspan>
        </text>
        {axisLabels(macdTickVals, yMacd, (v) => v.toFixed(2), "ma")}
        <ValBox y={yMacd(0.759)} text="0.759" color="#000" />
        <ValBox y={yMacd(0.359)} text="" color="#3C6FB0" />
        <ValBox y={yMacd(0.4)} text="0.400" color="#FF1A1A" />

        {/* ===== Hist panel ===== */}
        {bgRect(747, 892)}
        {vGrid(747, 892, "hv")}
        {hGrid(range(-0.5, 0.5, 0.1), yHist, "hh")}
        <g>
          {macdHist.map((v, i) => (
            <rect key={"hb" + i} x={xs(i) - 2.5} y={Math.min(yHist(0), yHist(v))} width={5} height={Math.abs(yHist(v) - yHist(0))} fill="#4E9BCD" stroke="#2D6C98" strokeWidth={0.6} />
          ))}
        </g>
        {frame(747, 892)}
        <g fill="#3C5E9C">
          <rect x={19} y={755} width={2} height={5} /><rect x={22} y={752} width={2} height={8} /><rect x={25} y={750} width={2} height={10} />
        </g>
        <text x={31} y={758} fontFamily={FL} fontSize={11} fill="#000">MACD(12,26,9) Hist 0.359</text>
        {axisLabels(histTickVals, yHist, (v) => v.toFixed(2), "ha")}
        <ValBox y={yHist(0.359)} text="0.359" color="#3C6FB0" />

        {/* ===== STO panel ===== */}
        {bgRect(892, 1037)}
        {vGrid(892, 1037, "sv")}
        {hGrid([0, 10, 30, 40, 60, 70, 90, 100], ySto, "sh")}
        <line x1={X0} x2={X1} y1={ySto(80)} y2={ySto(80)} stroke="#6E6E78" strokeWidth={1} />
        <line x1={X0} x2={X1} y1={ySto(20)} y2={ySto(20)} stroke="#6E6E78" strokeWidth={1} />
        <line x1={X0} x2={X1} y1={ySto(50)} y2={ySto(50)} stroke="#6E6E78" strokeWidth={1} strokeDasharray="8,3,2,3" />
        <g clipPath="url(#cpSto)">
          <path d={line(stoD, ySto)} fill="none" stroke="#FF1A1A" strokeWidth={1} />
          <path d={line(stoK, ySto)} fill="none" stroke="#000" strokeWidth={1.6} />
        </g>
        {frame(892, 1037)}
        <line x1={19} x2={27} y1={899} y2={899} stroke="#000" strokeWidth={2} />
        <text x={31} y={903} fontFamily={FL} fontSize={11}>
          <tspan fill="#000">Full STO %K(14,3) %D(3) 82.20</tspan>
          <tspan fill="#FF1A1A">, 82.61</tspan>
        </text>
        {axisLabels(stoTickVals, ySto, (v) => String(v), "sa")}
        <ValBox y={ySto(82.61) - 1.5} text="" color="#FF1A1A" />
        <ValBox y={ySto(82.2)} text="82.20" color="#000" />

        {/* ===== CTM panel ===== */}
        {ctmBands.map(([a, b, c], i) => (
          <rect key={"cb" + i} x={X0} y={yCtm(b)} width={X1 - X0} height={yCtm(a) - yCtm(b)} fill={c} />
        ))}
        {vGrid(1037, 1183, "cv")}
        {hGrid(range(0, 100, 10), yCtm, "ch", "rgba(150,150,170,0.35)")}
        <g clipPath="url(#cpCtm)">
          <path d={line(ctm, yCtm)} fill="none" stroke="#000" strokeWidth={1.6} />
        </g>
        {frame(1037, 1183)}
        <line x1={19} x2={27} y1={1044} y2={1044} stroke="#000" strokeWidth={2} />
        <text x={31} y={1048} fontFamily={FL} fontSize={11} fill="#000">CTM-$VIX 82.89</text>
        {axisLabels(ctmTickVals, yCtm, (v) => String(v), "ca")}
        <ValBox y={yCtm(82.89)} text="82.89" color="#000" />

        {dayLabels.map((d, k) => (
          <g key={"db" + k}>
            <line x1={dayX[k]} x2={dayX[k]} y1={1183} y2={1186} stroke="#777" />
            <text x={dayX[k]} y={1194} textAnchor="middle" fontFamily={FA} fontSize={10.5} fontWeight={d === "Feb" ? "bold" : "normal"} fill="#000">{d}</text>
          </g>
        ))}
      </svg>
    </div>
  );
}
